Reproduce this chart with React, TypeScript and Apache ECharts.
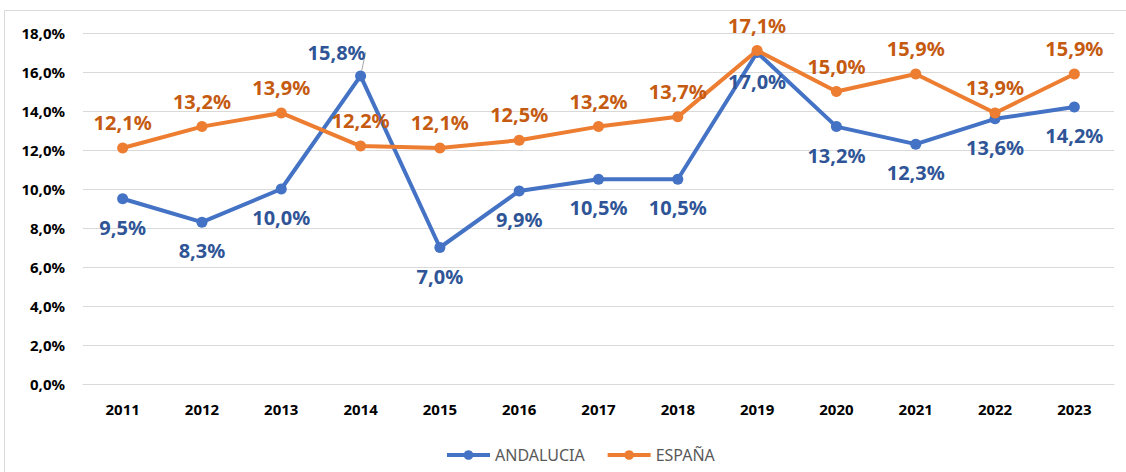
import React, { useEffect, useRef } from "react";
import * as echarts from "echarts";

const years = ["2011", "2012", "2013", "2014", "2015", "2016", "2017", "2018", "2019", "2020", "2021", "2022", "2023"];
const andalucia = [9.5, 8.3, 10.0, 15.8, 7.0, 9.9, 10.5, 10.5, 17.0, 13.2, 12.3, 13.6, 14.2];
const espana = [12.1, 13.2, 13.9, 12.2, 12.1, 12.5, 13.2, 13.7, 17.1, 15.0, 15.9, 13.9, 15.9];
const seriesNames = ["ANDALUCIA", "ESPAÑA"];

const fmt = (v: number) => v.toFixed(1).replace(".", ",") + "%";
const FONT = "'Noto Sans', sans-serif";

export default function App() {
  const ref = useRef<HTMLDivElement>(null);
  useEffect(() => {
    if (!ref.current) return;
    const chart = echarts.init(ref.current, null, { renderer: "svg" });
    const labelBase = { show: true, fontFamily: FONT, fontWeight: "bold", fontSize: 20, formatter: (p: any) => fmt(p.value) };
    chart.setOption({
      animation: false,
      backgroundColor: "#ffffff",
      textStyle: { fontFamily: FONT },
      graphic: [
        { type: "rect", shape: { x: 4.5, y: 10.5, width: 1300, height: 600 }, style: { fill: "none", stroke: "#D9D9D9", lineWidth: 1 }, silent: true, z: -10 },
      ],
      grid: { left: 83, right: 12, top: 33, bottom: 88 },
      legend: {
        data: seriesNames,
        left: 440,
        top: 442,
        itemWidth: 43,
        itemHeight: 12,
        itemGap: 21,
        lineStyle: { width: 4 },
        textStyle: { color: "#595959", fontSize: 16, fontFamily: FONT },
      },
      xAxis: {
        type: "category",
        data: years,
        boundaryGap: true,
        axisLine: { show: true, lineStyle: { color: "#D9D9D9" } },
        axisTick: { show: false },
        axisLabel: { color: "#000000", fontWeight: "bold", fontSize: 15, fontFamily: FONT, margin: 17 },
      },
      yAxis: {
        type: "value",
        min: 0,
        max: 18,
        interval: 2,
        axisLine: { show: false },
        axisTick: { show: false },
        splitLine: { lineStyle: { color: "#D9D9D9", width: 1 } },
        axisLabel: { color: "#000000", fontWeight: "bold", fontSize: 15, fontFamily: FONT, margin: 18, formatter: (v: number) => fmt(v) },
      },
      series: [
        {
          name: seriesNames[0],
          type: "line",
          data: andalucia.map((v, i) =>
            i === 3
              ? { value: v, label: { position: "top", distance: 8 }, labelLine: { show: true, lineStyle: { color: "#A6A6A6", width: 1 } } }
              : v
          ),
          symbol: "circle",
          symbolSize: 11,
          lineStyle: { color: "#4472C4", width: 4 },
          itemStyle: { color: "#4472C4" },
          label: { ...labelBase, color: "#2F5597", position: "bottom", distance: 13 },
          labelLayout: (p: any) => (p.dataIndex === 3 ? { dx: -24, dy: 0 } : {}),
          z: 2,
        },
        {
          name: seriesNames[1],
          type: "line",
          data: espana,
          symbol: "circle",
          symbolSize: 11,
          lineStyle: { color: "#ED7D31", width: 4 },
          itemStyle: { color: "#ED7D31" },
          label: { ...labelBase, color: "#C55A11", position: "top", distance: 10 },
          z: 3,
        },
      ],
    });
    return () => chart.dispose();
  }, []);
  return <div ref={ref} style={{ position: "absolute", left: 0, top: 0, width: 1126, height: 472 }} />;
}
